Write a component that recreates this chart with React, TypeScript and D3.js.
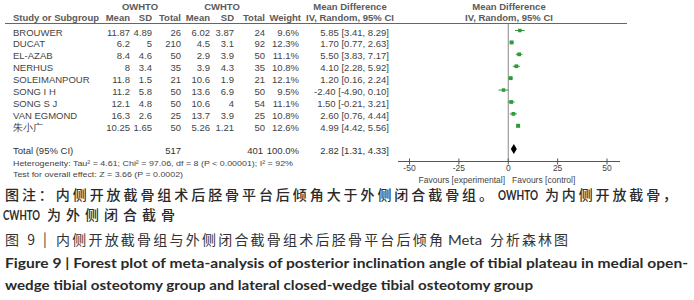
import React from "react";
import * as d3 from "d3";

const studies = ["BROUWER", "DUCAT", "EL-AZAB", "NERHUS", "SOLEIMANPOUR", "SONG I H", "SONG S J", "VAN EGMOND", "朱小广"];
const owMean = [11.87, 6.2, 8.4, 8, 11.8, 11.2, 12.1, 16.3, 10.25];
const owSD = [4.89, 5, 4.6, 3.4, 1.5, 5.8, 4.8, 2.6, 1.65];
const owTotal = [26, 210, 50, 35, 21, 50, 50, 25, 50];
const cwMean = [6.02, 4.5, 2.9, 3.9, 10.6, 13.6, 10.6, 13.7, 5.26];
const cwSD = [3.87, 3.1, 3.9, 4.3, 1.9, 6.9, 4, 3.9, 1.21];
const cwTotal = [24, 92, 50, 35, 21, 50, 54, 25, 50];
const weights = [9.6, 12.3, 11.1, 10.8, 12.1, 9.5, 11.1, 10.8, 12.6];
const md = [5.85, 1.7, 5.5, 4.1, 1.2, -2.4, 1.5, 2.6, 4.99];
const ciLo = [3.41, 0.77, 3.83, 2.28, 0.16, -4.9, -0.21, 0.76, 4.42];
const ciHi = [8.29, 2.63, 7.17, 5.92, 2.24, 0.1, 3.21, 4.44, 5.56];
const totalPooled = { n1: 517, n2: 401, md: 2.82, lo: 1.31, hi: 4.33 };
const axisTicks = [-50, -25, 0, 25, 50];

const fmtNum = (v: number) => String(v);
const f2 = (v: number) => d3.format(".2f")(v).replace("−", "-");

export default function App() {
  const x = d3.scaleLinear().domain([-50, 50]).range([409.5, 607]);
  const y = d3.scalePoint<string>().domain(studies).range([30.5, 125.8]);
  const rowText = "#444";
  const hdr = "#5a5a5a";
  const fs = 9.5;
  const font = "'Liberation Sans', Arial, sans-serif";
  const totalY = 149;
  const axisY = 161.5;
  const green = "#2e9a3a";
  const sq = d3.scaleSqrt().domain([0, 12.6]).range([0, 4]);

  const cols = [
    { xr: 130, vals: owMean.map(fmtNum) },
    { xr: 152, vals: owSD.map(fmtNum) },
    { xr: 181, vals: owTotal.map(fmtNum) },
    { xr: 210, vals: cwMean.map(fmtNum) },
    { xr: 234, vals: cwSD.map(fmtNum) },
    { xr: 265, vals: cwTotal.map(fmtNum) },
    { xr: 299, vals: weights.map((w) => w.toFixed(1) + "%") },
    { xr: 389, vals: md.map((m, i) => `${f2(m)} [${f2(ciLo[i])}, ${f2(ciHi[i])}]`) },
  ];

  const cjk = "'Noto Sans CJK SC', 'Noto Sans', sans-serif";
  const latinCap = "Lato, 'Open Sans', sans-serif";

  return (
    <svg width={694} height={300} style={{ position: "absolute", left: 0, top: 0, background: "#fff" }} fontFamily={font}>
      <rect width={694} height={300} fill="#fff" />
      {/* Headers */}
      <g fontWeight="bold" fill={hdr} fontSize={fs}>
        <text x={140} y={10} textAnchor="middle">OWHTO</text>
        <text x={222} y={10} textAnchor="middle">CWHTO</text>
        <text x={350} y={10} textAnchor="middle">Mean Difference</text>
        <text x={509} y={10} textAnchor="middle">Mean Difference</text>
        <text x={13} y={21}>Study or Subgroup</text>
        <text x={130} y={21} textAnchor="end">Mean</text>
        <text x={152} y={21} textAnchor="end">SD</text>
        <text x={181} y={21} textAnchor="end">Total</text>
        <text x={210} y={21} textAnchor="end">Mean</text>
        <text x={234} y={21} textAnchor="end">SD</text>
        <text x={265} y={21} textAnchor="end">Total</text>
        <text x={301} y={21} textAnchor="end">Weight</text>
        <text x={350} y={21} textAnchor="middle">IV, Random, 95% CI</text>
        <text x={509} y={21} textAnchor="middle">IV, Random, 95% CI</text>
      </g>
      <line x1={5} x2={627} y1={23.5} y2={23.5} stroke="#666" strokeWidth={1} />

      {/* Rows */}
      <g fontSize={fs} fill={rowText}>
        {studies.map((s, i) => (
          <g key={s}>
            <text x={13} y={(y(s) as number) + 5}>{s}</text>
            {cols.map((c, j) => (
              <text key={j} x={c.xr} y={(y(s) as number) + 5} textAnchor="end">{c.vals[i]}</text>
            ))}
          </g>
        ))}
      </g>
      <g fontSize={fs} fill="#333">
        <text x={13} y={totalY + 5}>Total (95% CI)</text>
        <text x={181} y={totalY + 5} textAnchor="end">{totalPooled.n1}</text>
        <text x={263} y={totalY + 5} textAnchor="end">{totalPooled.n2}</text>
        <text x={299} y={totalY + 5} textAnchor="end">100.0%</text>
        <text x={389} y={totalY + 5} textAnchor="end">{`${f2(totalPooled.md)} [${f2(totalPooled.lo)}, ${f2(totalPooled.hi)}]`}</text>
      </g>
      <g fontSize={7.6} fill={rowText}>
        <text x={13} y={165.5} textLength={280} lengthAdjust="spacingAndGlyphs">
          Heterogeneity: Tau² = 4.61; Chi² = 97.06, df = 8 (P &lt; 0.00001); I² = 92%
        </text>
        <text x={13} y={176.5} textLength={170} lengthAdjust="spacingAndGlyphs">
          Test for overall effect: Z = 3.66 (P = 0.0002)
        </text>
      </g>

      {/* Plot */}
      <line x1={x(0)} x2={x(0)} y1={24} y2={axisY} stroke="#888" strokeWidth={1} />
      {studies.map((s, i) => {
        const cy = y(s) as number;
        const h = sq(weights[i]);
        return (
          <g key={s}>
            <line x1={x(ciLo[i])} x2={x(ciHi[i])} y1={cy} y2={cy} stroke={green} strokeWidth={1} />
            <rect x={x(md[i]) - h / 2} y={cy - h / 2} width={h} height={h} fill={green} />
          </g>
        );
      })}
      <path
        d={`M${x(totalPooled.lo)},${totalY} L${x(totalPooled.md)},${totalY - 5} L${x(totalPooled.hi)},${totalY} L${x(totalPooled.md)},${totalY + 5} Z`}
        fill="#000"
      />
      <line x1={398} x2={620} y1={axisY} y2={axisY} stroke="#555" strokeWidth={1} />
      {axisTicks.map((t) => (
        <g key={t}>
          <line x1={x(t)} x2={x(t)} y1={axisY - 3} y2={axisY + 3} stroke="#555" strokeWidth={1} />
          <text x={x(t)} y={axisY + 9.5} textAnchor="middle" fontSize={8.5} fill={rowText}>{String(t)}</text>
        </g>
      ))}
      <text x={505} y={183} textAnchor="end" fontSize={8.5} fill={rowText}>Favours [experimental]</text>
      <text x={512} y={183} fontSize={8.5} fill={rowText}>Favours [control]</text>

      {/* Captions */}
      <g fill="#2a2a2a">
        <text x={5} y={200} fontFamily={cjk} fontSize={14} fontWeight={500} textLength={488} lengthAdjust="spacing">
          图注：内侧开放截骨组术后胫骨平台后倾角大于外侧闭合截骨组。
        </text>
        <text x={498} y={200} fontFamily={latinCap} fontSize={12.5} fontWeight="bold" textLength={40} lengthAdjust="spacingAndGlyphs">
          OWHTO
        </text>
        <text x={545} y={200} fontFamily={cjk} fontSize={14} fontWeight={500} textLength={132} lengthAdjust="spacing">
          为内侧开放截骨，
        </text>
        <text x={3} y={220} fontFamily={latinCap} fontSize={12.5} fontWeight="bold" textLength={37} lengthAdjust="spacingAndGlyphs">
          CWHTO
        </text>
        <text x={47} y={220} fontFamily={cjk} fontSize={14} fontWeight={500} textLength={128} lengthAdjust="spacing">
          为外侧闭合截骨
        </text>
      </g>
      <g fill="#333" fontFamily={cjk} fontSize={14} fontWeight={400}>
        <text x={5} y={245} textLength={30} lengthAdjust="spacing">图 9</text>
        <text x={43} y={244}>|</text>
        <text x={56} y={245} textLength={387} lengthAdjust="spacing">内侧开放截骨组与外侧闭合截骨组术后胫骨平台后倾角</text>
        <text x={448} y={245} fontFamily={latinCap} fontSize={13} textLength={34} lengthAdjust="spacingAndGlyphs">Meta</text>
        <text x={490} y={245} textLength={78} lengthAdjust="spacing">分析森林图</text>
      </g>
      <g fontFamily={latinCap} fill="#2a2a2a" fontWeight="bold" fontSize={13}>
        <text x={5} y={268} textLength={683} lengthAdjust="spacingAndGlyphs">
          Figure 9 | Forest plot of meta-analysis of posterior inclination angle of tibial plateau in medial open-
        </text>
        <text x={5} y={290} textLength={528} lengthAdjust="spacingAndGlyphs">
          wedge tibial osteotomy group and lateral closed-wedge tibial osteotomy group
        </text>
      </g>
    </svg>
  );
}
